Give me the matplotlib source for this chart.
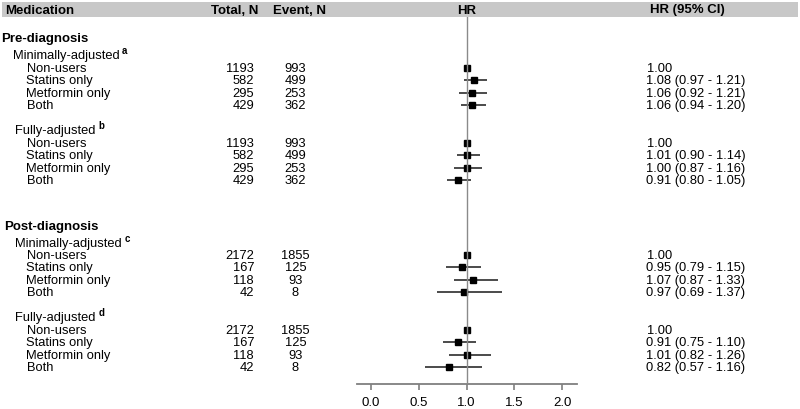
import numpy as np
import matplotlib
matplotlib.use("Agg")
import matplotlib.pyplot as plt
from matplotlib import transforms
from matplotlib.patches import Rectangle

plt.rcParams['font.family'] = ['Liberation Sans', 'DejaVu Sans']

# ---------------- data ----------------
categories = ["Non-users", "Statins only", "Metformin only", "Both"]
sections = ["Pre-diagnosis", "Post-diagnosis"]
models = ["Minimally-adjusted", "Fully-adjusted"]
footnotes = [["a", "b"], ["c", "d"]]

total_pre = [1193, 582, 295, 429]
event_pre = [993, 499, 253, 362]
total_post = [2172, 167, 118, 42]
event_post = [1855, 125, 93, 8]

hr_pre_min = [1.00, 1.08, 1.06, 1.06]
lo_pre_min = [np.nan, 0.97, 0.92, 0.94]
hi_pre_min = [np.nan, 1.21, 1.21, 1.20]

hr_pre_full = [1.00, 1.01, 1.00, 0.91]
lo_pre_full = [np.nan, 0.90, 0.87, 0.80]
hi_pre_full = [np.nan, 1.14, 1.16, 1.05]

hr_post_min = [1.00, 0.95, 1.07, 0.97]
lo_post_min = [np.nan, 0.79, 0.87, 0.69]
hi_post_min = [np.nan, 1.15, 1.33, 1.37]

hr_post_full = [1.00, 0.91, 1.01, 0.82]
lo_post_full = [np.nan, 0.75, 0.82, 0.57]
hi_post_full = [np.nan, 1.10, 1.26, 1.16]

x_ticks = [0.0, 0.5, 1.0, 1.5, 2.0]

totals = [total_pre, total_post]
events = [event_pre, event_post]
hrs = [[hr_pre_min, hr_pre_full], [hr_post_min, hr_post_full]]
los = [[lo_pre_min, lo_pre_full], [lo_post_min, lo_post_full]]
his = [[hi_pre_min, hi_pre_full], [hi_post_min, hi_post_full]]

# ---------------- layout ----------------
W, H = 800, 409
fig = plt.figure(figsize=(W / 100, H / 100), dpi=100)

def fx(px):
    return px / W

def fy(py):
    return 1 - py / H

ax = fig.add_axes([fx(356.5), fy(384), fx(576.5) - fx(356.5), fy(16) - fy(384)])
ax.set_ylim(384, 16)
ax.set_xlim(-0.148, 2.148)
ax.set_facecolor('none')
for s in ['top', 'right', 'left']:
    ax.spines[s].set_visible(False)
ax.spines['bottom'].set_color('#7f7f7f')
ax.spines['bottom'].set_linewidth(1.3)
ax.set_yticks([])
ax.set_xticks(x_ticks)
ax.set_xticklabels([f"{t:.1f}" for t in x_ticks])
ax.tick_params(axis='x', colors='#7f7f7f', length=4, width=1.2, pad=5,
               labelsize=9.5, labelcolor='black')

blend = transforms.blended_transform_factory(fig.transFigure, ax.transData)

# header bar
fig.patches.append(Rectangle((fx(2), fy(17)), fx(796), fy(2) - fy(17),
                             transform=fig.transFigure, facecolor='#c8c8c8',
                             edgecolor='none', zorder=0))
hdr_y = fy(13.5)
hkw = dict(fontsize=9.5, fontweight='bold', va='baseline')
fig.text(fx(5), hdr_y, "Medication", ha='left', **hkw)
fig.text(fx(258), hdr_y, "Total, N", ha='right', **hkw)
fig.text(fx(273), hdr_y, "Event, N", ha='left', **hkw)
fig.text(fx(466.5), hdr_y, "HR", ha='center', **hkw)
fig.text(fx(650), hdr_y, "HR (95% CI)", ha='left', **hkw)

# reference line
ax.axvline(1.0, color='#8a8a8a', lw=1.0, zorder=4)

sec_y = [37.5, 225]
sec_x = [1, 4]
model_y = [[54.5, 129.5], [242.5, 316.5]]
model_x = [[12.5, 15.5], [15.5, 15.5]]
row0 = [[68, 143], [255, 330]]
step = 12.4
big_off = 4.8
row_off = 3.9

bkw = dict(fontsize=9.5, fontweight='bold', va='baseline', transform=blend, clip_on=False)
tkw = dict(fontsize=9.3, va='baseline', transform=blend, clip_on=False)

for si in range(2):
    ax.text(fx(sec_x[si]), sec_y[si] + big_off, sections[si], ha='left', **bkw)
    for mi in range(2):
        lbl = ax.text(fx(model_x[si][mi]), model_y[si][mi] + big_off, models[mi], ha='left', **tkw)
        ax.annotate(footnotes[si][mi], xy=(1, 0.55), xycoords=lbl,
                    xytext=(2, 0), textcoords='offset points',
                    fontsize=7, fontweight='bold', ha='left', va='bottom')
        ys = [row0[si][mi] + step * i for i in range(len(categories))]
        hr = np.array(hrs[si][mi])
        lo = np.array(los[si][mi])
        hi = np.array(his[si][mi])
        ax.hlines(ys, lo, hi, color='#1a1a1a', lw=1.1, zorder=2)
        ax.plot(hr, ys, 's', color='black', markersize=4.2, zorder=3, linestyle='none')
        for i, cat in enumerate(categories):
            yb = ys[i] + row_off
            ax.text(fx(26.5), yb, cat, ha='left', **tkw)
            ax.text(fx(254), yb, str(totals[si][i]), ha='right', **tkw)
            ax.text(fx(295.5), yb, str(events[si][i]), ha='center', **tkw)
            if np.isnan(lo[i]):
                s = f"{hr[i]:.2f}"
            else:
                s = f"{hr[i]:.2f} ({lo[i]:.2f} - {hi[i]:.2f})"
            ax.text(fx(646.5), yb, s, ha='left', **tkw)

fig.savefig("out.png", dpi=100, facecolor='white')
